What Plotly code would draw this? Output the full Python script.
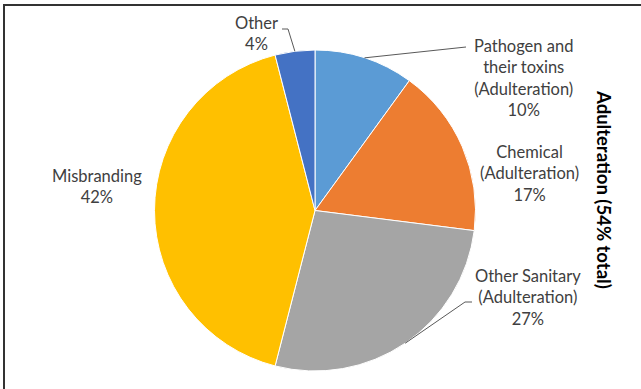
import math
import plotly.graph_objects as go

labels = ["Pathogen and<br>their toxins<br>(Adulteration)", "Chemical<br>(Adulteration)",
          "Other Sanitary<br>(Adulteration)", "Misbranding", "Other"]
values = [10, 17, 27, 42, 4]
colors = ["#5B9BD5", "#ED7D31", "#A5A5A5", "#FFC000", "#4472C4"]
side_title = "Adulteration (54% total)"

W, H = 641, 389
cx, cy, R = 315, 210.5, 160.5

def px(x):
    return x / W

def py(y):
    return 1 - y / H

fig = go.Figure(go.Pie(
    values=values, labels=labels, sort=False, direction="clockwise", rotation=0,
    marker=dict(colors=colors, line=dict(color="white", width=1)),
    textinfo="none", hoverinfo="label+percent", showlegend=False,
    domain=dict(x=[px(cx - R), px(cx + R)], y=[py(cy + R), py(cy - R)]),
))

# label annotation positions (pixel centers)
label_pos = [(523, 78), (529, 173), (528, 297), (97, 186), (256, 34)]
font = dict(family="Lato, Calibri, sans-serif", size=16.5, color="#404040")
total = sum(values)
cum = 0
mids = []
for v in values:
    mids.append((cum + v / 2) / total * 2 * math.pi)
    cum += v

for i, (lab, v) in enumerate(zip(labels, values)):
    x, y = label_pos[i]
    txt = lab + "<br>" + f"{round(v / total * 100)}%"
    fig.add_annotation(x=px(x), y=py(y), xref="paper", yref="paper", text=txt,
                       showarrow=False, font=font, align="center",
                       xanchor="center", yanchor="middle")

def edge(i):
    a = mids[i]
    return cx + R * math.sin(a), cy - R * math.cos(a)

line_style = dict(color="#595959", width=1)
# Pathogen leader
ex, ey = edge(0)
fig.add_shape(type="path", xref="paper", yref="paper",
              path=f"M {px(ex)} {py(ey)} L {px(466)} {py(47)}", line=line_style)
# Other Sanitary leader
ex, ey = edge(2)
fig.add_shape(type="path", xref="paper", yref="paper",
              path=f"M {px(ex)} {py(ey)} L {px(465)} {py(302)} L {px(472)} {py(302)}", line=line_style)
# Other leader
ex, ey = edge(4)
fig.add_shape(type="path", xref="paper", yref="paper",
              path=f"M {px(ex)} {py(ey)} L {px(288)} {py(29)} L {px(282)} {py(29)}", line=line_style)

fig.add_annotation(x=px(604), y=py(189), xref="paper", yref="paper", text=f"<b>{side_title}</b>",
                   showarrow=False, textangle=90,
                   font=dict(family="Lato, Calibri, sans-serif", size=18.5, color="black"),
                   xanchor="center", yanchor="middle")

# chart border
fig.add_shape(type="rect", xref="paper", yref="paper",
              x0=px(4), y0=py(395), x1=px(650), y1=py(5),
              line=dict(color="#333333", width=2))

fig.update_layout(width=W, height=H, margin=dict(l=0, r=0, t=0, b=0),
                  paper_bgcolor="white", plot_bgcolor="white")
fig.write_html("out.html")
